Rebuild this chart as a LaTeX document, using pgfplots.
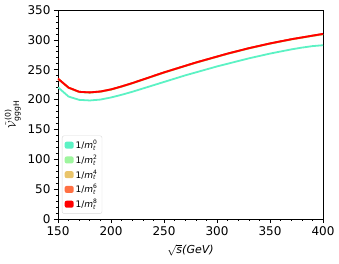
\documentclass[border=0pt]{standalone}
\usepackage{pgfplots}
\pgfplotsset{compat=1.18}
\usepackage{fontspec}
\setmainfont{DejaVu Sans}
\usepackage{amsmath}
\definecolor{c0}{HTML}{5CF2C4}
\definecolor{c2}{HTML}{9EF59E}
\definecolor{c4}{HTML}{E9C46A}
\definecolor{c6}{HTML}{FF7043}
\definecolor{c8}{HTML}{FF0000}
\newcommand{\mt}[1]{1/\textit{m}$_{\text{\textit{t}}}^{\text{#1}}$}
\begin{document}
\begin{tikzpicture}
\begin{axis}[
  scale only axis, width=265pt, height=209pt,
  xmin=150, xmax=400, ymin=0, ymax=350,
  xtick={150,200,250,300,350,400},
  ytick={0,50,100,150,200,250,300,350},
  minor x tick num=4, minor y tick num=4,
  tick align=outside, xtick pos=bottom, ytick pos=left,
  major tick length=4pt, minor tick length=2pt,
  tick style={black, line width=0.6pt},
  axis line style={line width=0.6pt},
  ticklabel style={font=\fontsize{12}{14}\selectfont},
  /pgf/number format/assume math mode=true,
  xlabel={$\sqrt{\text{\textit{s}}}$\textit{(GeV)}},
  xlabel style={font=\fontsize{11}{13}\selectfont, yshift=-2pt},
  ylabel={$\tilde{\mathcal{V}}^{\text{(0)}}_{\text{gggH}}$},
  ylabel style={font=\fontsize{11}{13}\selectfont},
  legend style={at={(0.015,0.025)}, anchor=south west, font=\fontsize{9}{10}\selectfont, draw=black!15, rounded corners=2pt, row sep=1pt, inner sep=2.5pt},
  legend cell align=left,
  legend image code/.code={\fill[#1, draw=none] (0pt,-3.5pt) rectangle (9pt,3.5pt);},
]
\addplot[c0, line width=1.8pt] coordinates {(150,220.5)(160,205)(170,199.5)(180,198.5)(190,200)(200,203.5)(210,208)(220,213)(230,218.5)(240,224)(250,229.5)(260,235)(270,240.5)(280,245.5)(290,250.5)(300,255.5)(310,260)(320,264.5)(330,269)(340,273)(350,277)(360,280.5)(370,284)(380,287)(390,289.5)(400,291)};
\addlegendentry{\mt{0}}
\addplot[c2, line width=1.8pt] coordinates {(150,234.5)(160,219.5)(170,212.5)(180,211.5)(190,213)(200,216.5)(210,221.5)(220,227)(230,233)(240,239)(250,245)(260,250.5)(270,256)(280,261.5)(290,266.5)(300,271.5)(310,276.5)(320,281)(330,285.5)(340,289.5)(350,293.5)(360,297)(370,300.5)(380,303.5)(390,306.5)(400,309)};
\addlegendentry{\mt{2}}
\addplot[c4, line width=1.8pt] coordinates {(150,235)(160,220)(170,213)(180,212)(190,213.5)(200,217)(210,222)(220,227.5)(230,233.5)(240,239.5)(250,245.5)(260,251)(270,256.5)(280,262)(290,267)(300,272)(310,277)(320,281.5)(330,286)(340,290)(350,294)(360,297.5)(370,301)(380,304)(390,307)(400,309.5)};
\addlegendentry{\mt{4}}
\addplot[c6, line width=1.8pt] coordinates {(150,235)(160,220)(170,213)(180,212)(190,213.5)(200,217)(210,222)(220,227.5)(230,233.5)(240,239.5)(250,245.5)(260,251)(270,256.5)(280,262)(290,267)(300,272)(310,277)(320,281.5)(330,286)(340,290)(350,294)(360,297.5)(370,301)(380,304)(390,307)(400,310)};
\addlegendentry{\mt{6}}
\addplot[c8, line width=1.8pt] coordinates {(150,235)(160,220)(170,213)(180,212)(190,213.5)(200,217)(210,222)(220,227.5)(230,233.5)(240,239.5)(250,245.5)(260,251)(270,256.5)(280,262)(290,267)(300,272)(310,277)(320,281.5)(330,286)(340,290)(350,294)(360,297.5)(370,301)(380,304)(390,307)(400,310)};
\addlegendentry{\mt{8}}
\end{axis}
\useasboundingbox ([xshift=-58pt,yshift=-45pt]current axis.south west) rectangle ([xshift=16pt,yshift=10pt]current axis.north east);
\end{tikzpicture}
\end{document}
